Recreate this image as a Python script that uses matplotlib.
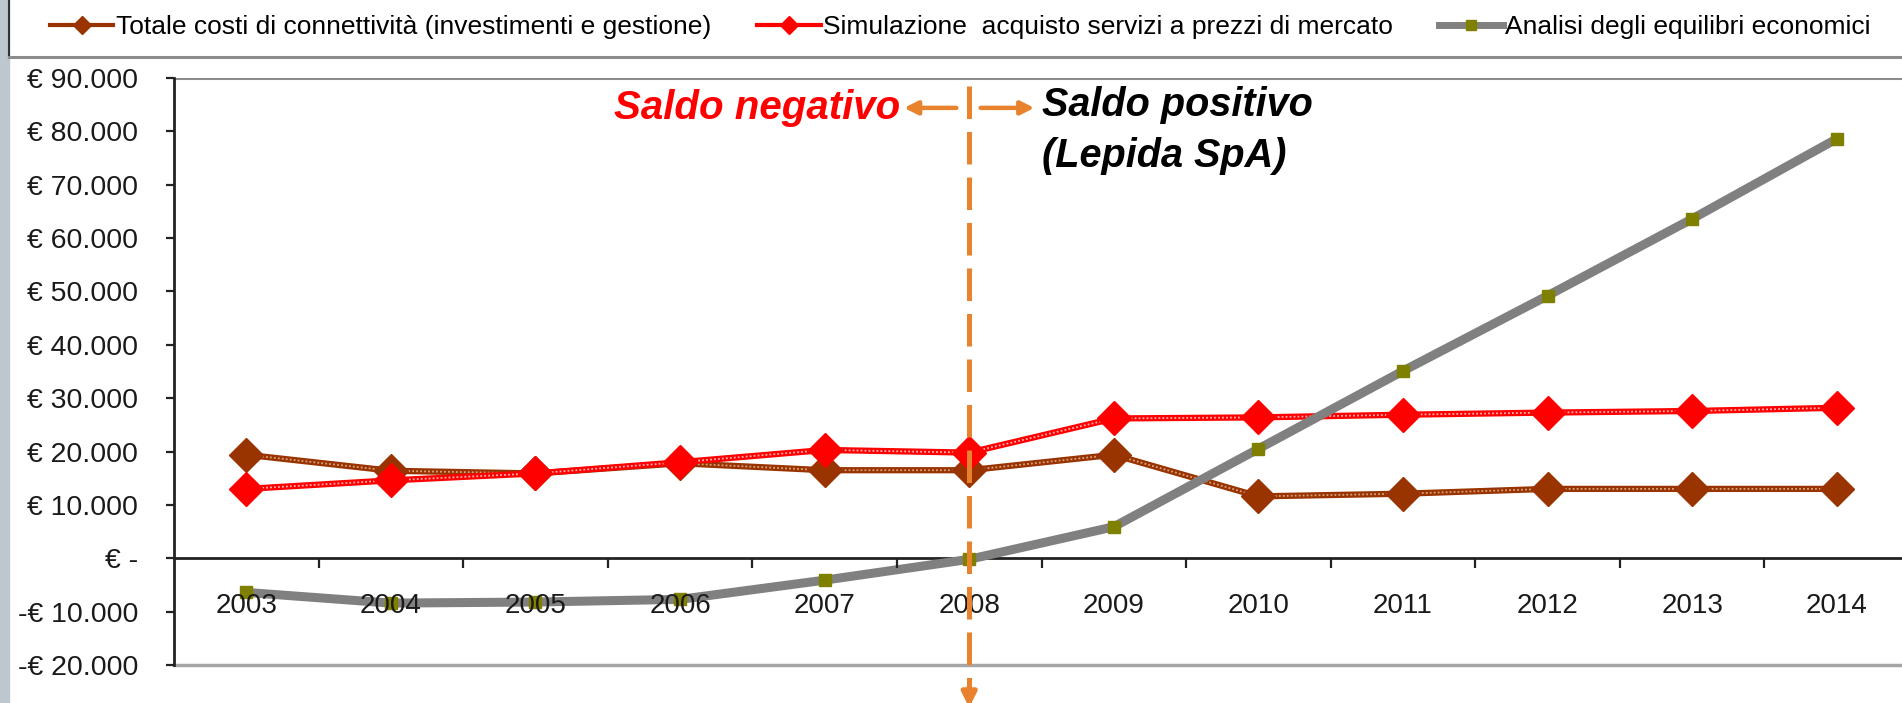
import matplotlib
matplotlib.use("Agg")
import matplotlib.pyplot as plt
from matplotlib.lines import Line2D
from matplotlib.patches import Rectangle
from matplotlib.ticker import FuncFormatter, FixedLocator

# values (euro)
years = ["2003", "2004", "2005", "2006", "2007", "2008",
         "2009", "2010", "2011", "2012", "2013", "2014"]
totale_costi = [19400, 16400, 15900, 17800, 16500, 16500,
                19400, 11600, 12100, 13000, 13000, 13000]
simulazione = [13000, 14600, 15900, 18000, 20300, 19800,
               26200, 26400, 26900, 27300, 27600, 28200]
equilibri = [-6400, -8400, -8200, -7700, -4100, -200,
             5900, 20500, 35100, 49200, 63600, 78600]
labels = ["Totale costi di connettività (investimenti e gestione)",
          "Simulazione  acquisto servizi a prezzi di mercato",
          "Analisi degli equilibri economici"]

W, H = 1902, 703
plt.rcParams["font.family"] = ["Liberation Sans", "DejaVu Sans"]

fig = plt.figure(figsize=(W / 100, H / 100), dpi=100)

# slide background strip and legend box
fig.patches.append(Rectangle((0, 0), 9 / W, 1, transform=fig.transFigure,
                             color="#BCC7CF", zorder=0))
fig.add_artist(Line2D([9 / W, 9 / W], [1, 1 - 57 / H], color="#333333", lw=1.5))
fig.add_artist(Line2D([9 / W, 1], [1 - 57 / H, 1 - 57 / H], color="#8C8C8C", lw=2.2))

ax = fig.add_axes([174 / W, 1 - 665 / H, (1909 - 174) / W, (665 - 78) / H])
x = list(range(len(years)))

brown = "#993300"
red = "#FF0000"
orange = "#E8822C"

# lines with a light stitched texture like the original, markers on top
ax.plot(x, totale_costi, color=brown, lw=4.5, zorder=3)
ax.plot(x, totale_costi, color="#D9A27A", lw=1.3, ls=(0, (1, 1.2)), zorder=3.1)
ax.plot(x, totale_costi, ls="none", marker="D", ms=17, color=brown, zorder=3.2)

ax.plot(x, simulazione, color=red, lw=4.5, zorder=4)
ax.plot(x, simulazione, color="#FFB0B0", lw=1.3, ls=(0, (1, 1.2)), zorder=4.1)
ax.plot(x, simulazione, ls="none", marker="D", ms=17, color=red, zorder=4.2)

ax.plot(x, equilibri, color="#808080", lw=6.5, zorder=5)
ax.plot(x, equilibri, ls="none", marker="s", ms=9, color="#808000", zorder=5.1)

ax.set_xlim(-0.5, len(years) - 0.5)
ax.set_ylim(-20000, 90000)

for s in ["top", "right"]:
    ax.spines[s].set_visible(False)
ax.spines["left"].set_linewidth(2)
ax.spines["left"].set_color("#222222")
ax.spines["bottom"].set_position(("data", 0))
ax.spines["bottom"].set_linewidth(2)
ax.spines["bottom"].set_color("#222222")
ax.axhline(90000, color="#8C8C8C", lw=2.2, zorder=1)
ax.axhline(-20000, color="#A6A6A6", lw=2.5, zorder=1, clip_on=False)


def euro(v, pos):
    if v == 0:
        return "€ -"
    s = f"{abs(v):,.0f}".replace(",", ".")
    return ("-€ " if v < 0 else "€ ") + s


ax.yaxis.set_major_locator(FixedLocator(range(-20000, 90001, 10000)))
ax.yaxis.set_major_formatter(FuncFormatter(euro))
ax.tick_params(axis="y", direction="out", length=6, width=1.6, color="#222222",
               pad=20, labelsize=20.5, labelcolor="#1a1a1a")

ax.set_xticks(x)
ax.set_xticklabels(years)
ax.set_xticks([i + 0.5 for i in x], minor=True)
ax.tick_params(axis="x", which="major", length=0, pad=25, labelsize=20,
               labelcolor="#1a1a1a")
ax.tick_params(axis="x", which="minor", direction="out", length=7, width=1.6,
               color="#222222")
ax.xaxis.set_zorder(6)

# break-even marker at 2008
i08 = years.index("2008")
ax.plot([i08, i08], [88500, -26800], color=orange, lw=3.6, ls=(0, (6.5, 2.6)),
        zorder=7, clip_on=False)
ax.annotate("", xy=(i08, -28500), xytext=(i08, -23500), annotation_clip=False,
            arrowprops=dict(arrowstyle="-|>", color=orange, lw=3.6,
                            mutation_scale=22), zorder=7)
ax.annotate("", xy=(i08 - 0.47, 84400), xytext=(i08 - 0.07, 84400),
            arrowprops=dict(arrowstyle="-|>", color=orange, lw=3.2,
                            mutation_scale=20))
ax.annotate("", xy=(i08 + 0.47, 84400), xytext=(i08 + 0.06, 84400),
            arrowprops=dict(arrowstyle="-|>", color=orange, lw=3.2,
                            mutation_scale=20))
ax.text(i08 - 0.48, 84300, "Saldo negativo", color=red, fontsize=29,
        fontweight="bold", fontstyle="italic", ha="right", va="center")
ax.text(i08 + 0.5, 85000, "Saldo positivo", color="black", fontsize=28.5,
        fontweight="bold", fontstyle="italic", ha="left", va="center")
ax.text(i08 + 0.5, 75300, "(Lepida SpA)", color="black", fontsize=28.5,
        fontweight="bold", fontstyle="italic", ha="left", va="center")

handles = [
    Line2D([], [], color=brown, lw=3, marker="D", ms=9),
    Line2D([], [], color=red, lw=3, marker="D", ms=9),
    Line2D([], [], color="#808080", lw=5, marker="s", ms=7, mfc="#808000",
           mec="#808000"),
]
fig.legend(handles, labels, loc="center left",
           bbox_to_anchor=(50 / W, 1 - 27 / H), ncol=3, frameon=False,
           handlelength=2.4, handletextpad=0.1, columnspacing=1.75,
           borderpad=0, borderaxespad=0, numpoints=1,
           prop={"size": 19})

fig.savefig("out.png", dpi=100)
